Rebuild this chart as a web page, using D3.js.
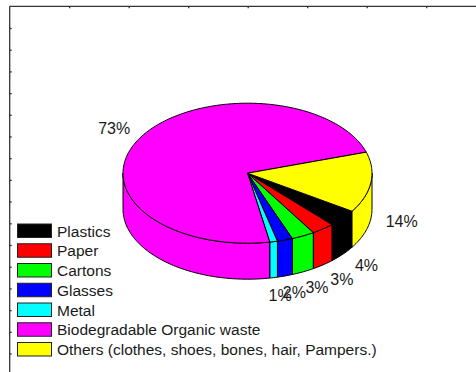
<!DOCTYPE html>
<html>
<head>
<meta charset="utf-8">
<script src="https://cdn.jsdelivr.net/npm/d3@7"></script>
<style>
  body { margin: 0; background: #fff; }
  text { font-family: "Liberation Sans", Arial, sans-serif; fill: #1a1a1a; }
</style>
</head>
<body>
<div id="chart"></div>
<script>
var svgWidth = 476;
var svgHeight = 372;

// data
var categories = ["Plastics", "Paper", "Cartons", "Glasses", "Metal",
    "Biodegradable Organic waste", "Others (clothes, shoes, bones, hair, Pampers.)"];
var shares = [4, 3, 3, 2, 1, 73, 14];
var sliceLabels = ["4%", "3%", "3%", "2%", "1%", "73%", "14%"];
var colors = ["#000000", "#ff0000", "#00ff00", "#0000ff", "#00ffff", "#ff00ff", "#ffff00"];

// pie geometry
var cx = 247.5, cy = 173.2;
var rx = 124.5, ry = 70;
var depth = 36;
var labelK = 1.25;

var svg = d3.select("#chart")
    .append("svg")
    .attr("width", svgWidth)
    .attr("height", svgHeight);

// empty frame with small inward ticks
var xFrame = d3.scaleLinear().domain([0, 8]).range([9.7, 9.7 + 59.5 * 8]);
var yFrame = d3.scaleLinear().domain([0, 17]).range([6.3, 6.3 + 21.7 * 17]);

svg.append("g")
    .attr("transform", "translate(0,6.3)")
    .call(d3.axisTop(xFrame).tickValues(d3.range(1, 8)).tickSize(-2).tickFormat(""))
    .call(g => g.select(".domain").attr("d", "M9.7,0H476"))
    .call(g => g.selectAll("line,path").attr("stroke", "#333").attr("stroke-width", 1.3));

svg.append("g")
    .attr("transform", "translate(9.7,0)")
    .call(d3.axisLeft(yFrame).tickValues(d3.range(1, 17)).tickSize(-2).tickFormat(""))
    .call(g => g.select(".domain").attr("d", "M0,6.3V372"))
    .call(g => g.selectAll("line,path").attr("stroke", "#333").attr("stroke-width", 1.3));

// pie angles (d3 angles: from 12 o'clock, clockwise)
var startDeg = 122.9;
var pie = d3.pie().sort(null).value(d => d)
    .startAngle(startDeg * Math.PI / 180)
    .endAngle(startDeg * Math.PI / 180 + 2 * Math.PI);
var arcs = pie(shares);

// screen angle = d3 angle - 90deg
function pt(a, k, dy) {
    var t = a - Math.PI / 2;
    return [cx + rx * k * Math.cos(t), cy + ry * k * Math.sin(t) + (dy || 0)];
}

function arcPoints(a0, a1, dy) {
    var n = Math.max(2, Math.ceil(Math.abs(a1 - a0) / 0.02));
    return d3.range(n + 1).map(i => pt(a0 + (a1 - a0) * i / n, 1, dy));
}

var line = d3.line();

// side walls (front half only: screen angle 0..PI -> d3 angle PI/2..3PI/2)
var wallG = svg.append("g");
arcs.forEach(function(d, i) {
    [0, 2 * Math.PI].forEach(function(shift) {
        var lo = Math.max(d.startAngle, Math.PI / 2 + shift);
        var hi = Math.min(d.endAngle, 3 * Math.PI / 2 + shift);
        if (hi <= lo) return;
        var top = arcPoints(lo, hi, 0);
        var bot = arcPoints(hi, lo, depth);
        wallG.append("path")
            .attr("d", line(top.concat(bot)) + "Z")
            .attr("fill", colors[i])
            .attr("stroke", "#000")
            .attr("stroke-width", 1)
            .attr("stroke-linejoin", "round");
    });
});

// top face
var topG = svg.append("g");
arcs.forEach(function(d, i) {
    var p = [[cx, cy]].concat(arcPoints(d.startAngle, d.endAngle, 0));
    topG.append("path")
        .attr("d", line(p) + "Z")
        .attr("fill", colors[i])
        .attr("stroke", "#000")
        .attr("stroke-width", 1)
        .attr("stroke-linejoin", "round");
});

// slice labels
svg.append("g").selectAll("text")
    .data(arcs)
    .enter()
    .append("text")
    .attr("x", d => pt((d.startAngle + d.endAngle) / 2, labelK)[0])
    .attr("y", function(d) {
        var m = (d.startAngle + d.endAngle) / 2;
        var front = Math.sin(m - Math.PI / 2) > 0;
        return pt(m, labelK, front ? depth : 0)[1];
    })
    .attr("text-anchor", "middle")
    .attr("dy", "0.36em")
    .style("font-size", "16px")
    .text((d, i) => sliceLabels[i]);

// legend
var legend = svg.append("g").attr("transform", "translate(17.5,224)");
var rowH = 19.75;
var rows = legend.selectAll("g")
    .data(categories)
    .enter()
    .append("g")
    .attr("transform", (d, i) => `translate(0, ${i * rowH})`);

rows.append("rect")
    .attr("width", 34)
    .attr("height", 13.5)
    .attr("fill", (d, i) => colors[i])
    .attr("stroke", "#222")
    .attr("stroke-width", 1);

rows.append("text")
    .attr("x", 39.5)
    .attr("y", 7)
    .attr("dy", "0.36em")
    .style("font-size", "15.5px")
    .text(d => d);
</script>
</body>
</html>
